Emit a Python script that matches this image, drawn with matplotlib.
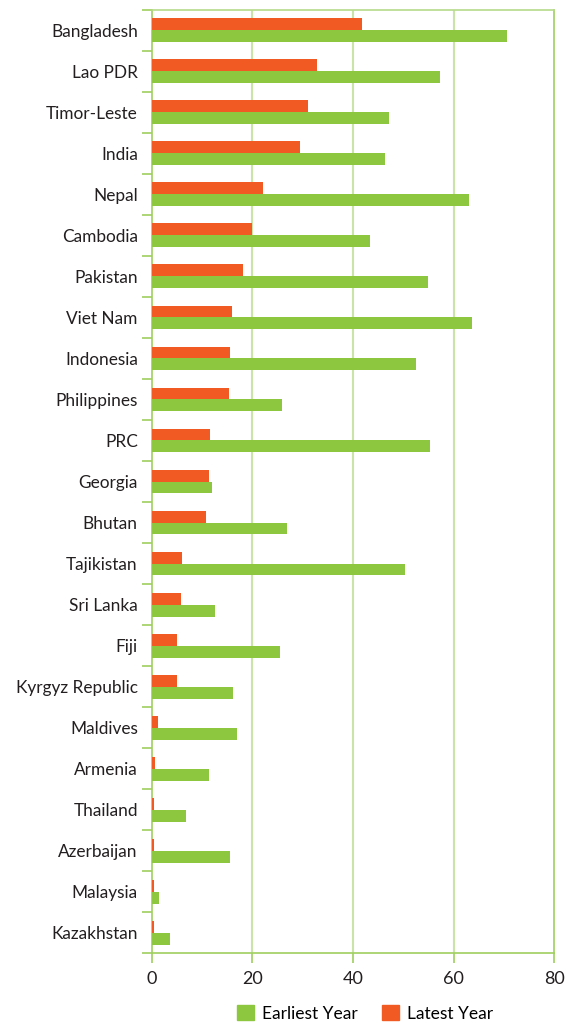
import matplotlib
matplotlib.use("Agg")
import matplotlib.pyplot as plt
from matplotlib.patches import Patch
import numpy as np

countries = ["Bangladesh", "Lao PDR", "Timor-Leste", "India", "Nepal", "Cambodia",
             "Pakistan", "Viet Nam", "Indonesia", "Philippines", "PRC", "Georgia",
             "Bhutan", "Tajikistan", "Sri Lanka", "Fiji", "Kyrgyz Republic",
             "Maldives", "Armenia", "Thailand", "Azerbaijan", "Malaysia", "Kazakhstan"]
earliest = [70.6, 57.3, 47.2, 46.4, 63.1, 43.4, 54.9, 63.7, 52.5, 25.9, 55.3, 12.0,
            26.9, 50.4, 12.6, 25.5, 16.2, 17.0, 11.4, 6.8, 15.6, 1.45, 3.6]
latest = [41.8, 32.9, 31.1, 29.5, 22.1, 19.9, 18.2, 16.0, 15.6, 15.4, 11.6, 11.4,
          10.8, 6.0, 5.8, 5.0, 5.0, 1.25, 0.65, 0.45, 0.45, 0.45, 0.45]
xticks = [0, 20, 40, 60, 80]

GREEN = "#8DC63F"
ORANGE = "#F15A22"
GRID = "#C9E3A9"
SPINE = "#9FD05F"

plt.rcParams['font.family'] = ['Lato', 'DejaVu Sans']

fig = plt.figure(figsize=(5.72, 10.23), dpi=100)
ax = fig.add_axes([0.2652, 0.0681, 0.7038, 0.9224])

n = len(countries)
y = np.arange(n)
h = 0.29
ax.barh(y - h / 2, latest, height=h, color=ORANGE, zorder=3)
ax.barh(y + h / 2, earliest, height=h, color=GREEN, zorder=3)

ax.set_ylim(n - 0.5, -0.5)
ax.set_xlim(0, 80)
ax.set_yticks(y)
ax.set_yticklabels(countries, fontsize=12.4, color="#231F20")
ax.set_yticks(np.arange(n + 1) - 0.5, minor=True)
ax.tick_params(axis='y', which='major', length=0, pad=10)
ax.tick_params(axis='y', which='minor', length=7, color=SPINE, width=1.2)
ax.set_xticks(xticks)
ax.set_xticklabels([str(v) for v in xticks], fontsize=13, color="#231F20")
ax.tick_params(axis='x', length=7, color=SPINE, width=1.2, pad=6)

for v in xticks[1:-1]:
    ax.axvline(v, color=GRID, lw=1.5, zorder=1)
for s in ax.spines.values():
    s.set_color(SPINE)
    s.set_linewidth(1.2)
ax.spines['top'].set_color("#B5DA8A")

handles = [Patch(color=GREEN, label="Earliest Year"), Patch(color=ORANGE, label="Latest Year")]
fig.legend(handles=handles, loc="center", bbox_to_anchor=(0.638, 0.0095), ncol=2,
           frameon=False, fontsize=12.5, handlelength=1.0, handleheight=1.0,
           columnspacing=1.4, handletextpad=0.45)

fig.savefig("out.png", dpi=100)
